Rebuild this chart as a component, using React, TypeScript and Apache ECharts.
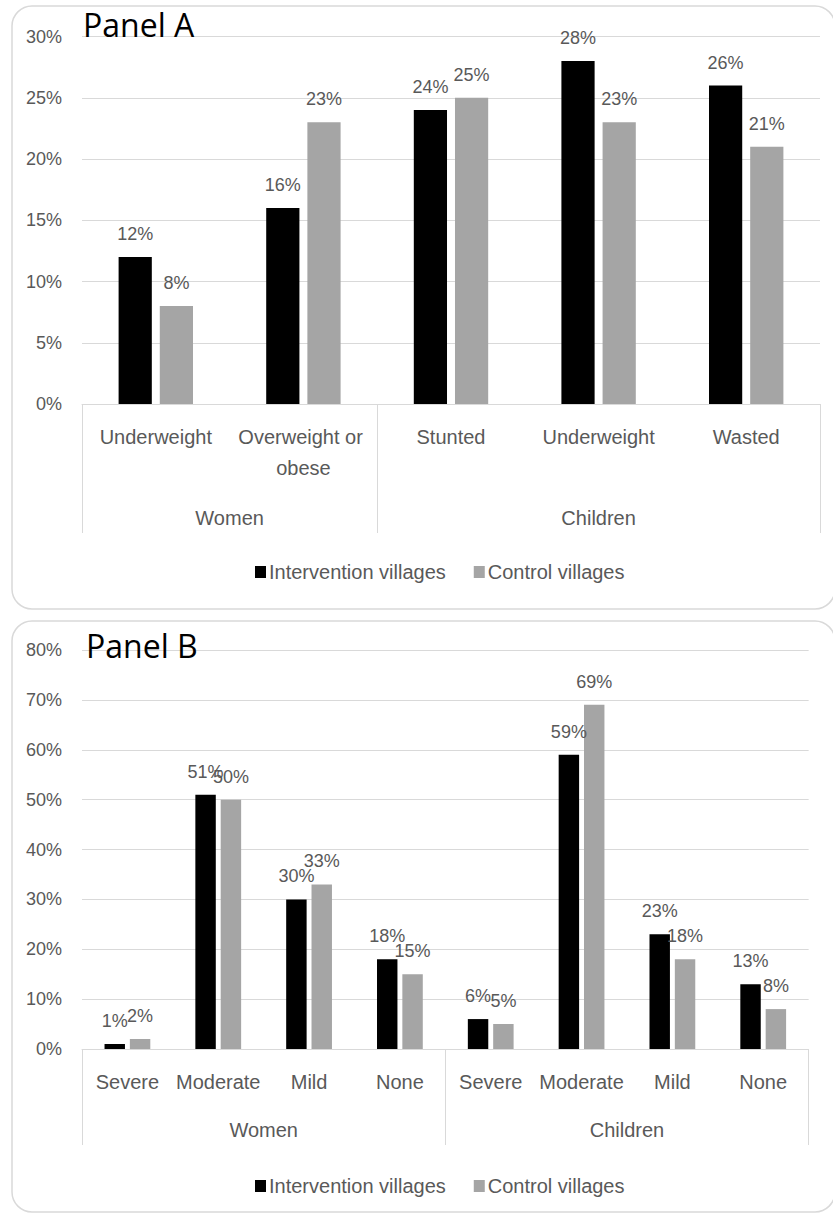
import React, { useEffect, useRef } from "react";
import * as echarts from "echarts";

// Panel A – nutritional status
const panelACategories = ["Underweight", "Overweight or obese", "Stunted", "Underweight", "Wasted"];
const panelAGroups = ["Women", "Children"];
const panelAGroupSizes = [2, 3];
const panelAIntervention = [12, 16, 24, 28, 26];
const panelAControl = [8, 23, 25, 23, 21];
const panelAMax = 30;
const panelAStep = 5;

// Panel B – anaemia severity
const panelBCategories = ["Severe", "Moderate", "Mild", "None", "Severe", "Moderate", "Mild", "None"];
const panelBGroups = ["Women", "Children"];
const panelBGroupSizes = [4, 4];
const panelBIntervention = [1, 51, 30, 18, 6, 59, 23, 13];
const panelBControl = [2, 50, 33, 15, 5, 69, 18, 8];
const panelBMax = 80;
const panelBStep = 10;

const seriesNames = ["Intervention villages", "Control villages"];
const panelTitles = ["Panel A", "Panel B"];

const TEXT = "#595959";
const RULE = "#d9d9d9";
const SANS = "'Liberation Sans', Arial, sans-serif";
const TITLE_FONT = "'Open Sans', 'Noto Sans', sans-serif";

function groupLayout(sizes: number[]) {
  const bounds = [0];
  const centers: number[] = [];
  sizes.forEach((s) => {
    const start = bounds[bounds.length - 1];
    centers.push(start + s / 2);
    bounds.push(start + s);
  });
  return { bounds, centers };
}

function groupAxis(gridIndex: number, groups: string[], sizes: number[], tickLen: number, labelMargin: number) {
  const { bounds, centers } = groupLayout(sizes);
  return {
    type: "value",
    gridIndex,
    position: "bottom",
    min: 0,
    max: bounds[bounds.length - 1],
    axisLine: { show: false },
    splitLine: { show: false },
    axisTick: { show: true, customValues: bounds, length: tickLen, lineStyle: { color: RULE, width: 1 } },
    axisLabel: {
      customValues: centers,
      margin: labelMargin,
      color: TEXT,
      fontFamily: SANS,
      fontSize: 20,
      lineHeight: 24,
      formatter: (v: number) => {
        const i = centers.findIndex((c) => Math.abs(c - v) < 1e-6);
        return i >= 0 ? groups[i] : "";
      },
    },
  };
}

function categoryAxis(gridIndex: number, data: string[]) {
  return {
    type: "category",
    gridIndex,
    data,
    axisLine: { lineStyle: { color: RULE, width: 1 } },
    axisTick: { show: false },
    axisLabel: {
      interval: 0,
      color: TEXT,
      fontFamily: SANS,
      fontSize: 20,
      lineHeight: 31,
      margin: 17,
      width: 135,
      overflow: "break",
    },
  };
}

function valueAxis(gridIndex: number, max: number, step: number) {
  return {
    type: "value",
    gridIndex,
    min: 0,
    max,
    interval: step,
    axisLine: { show: false },
    axisTick: { show: false },
    splitLine: { lineStyle: { color: RULE, width: 1 } },
    axisLabel: { formatter: "{value}%", color: TEXT, fontFamily: SANS, fontSize: 18, margin: 20 },
  };
}

function barSeries(name: string, data: number[], color: string, axisIndex: number) {
  return {
    type: "bar",
    name,
    data,
    xAxisIndex: axisIndex,
    yAxisIndex: axisIndex === 0 ? 0 : 1,
    barWidth: "22.5%",
    barGap: "24%",
    itemStyle: { color },
    label: {
      show: true,
      position: "top",
      distance: 14,
      formatter: "{c}%",
      color: TEXT,
      fontFamily: SANS,
      fontSize: 18,
    },
  };
}

function legendAt(top: number) {
  return {
    left: 250,
    top,
    data: seriesNames,
    icon: "rect",
    itemWidth: 11,
    itemHeight: 12,
    itemGap: 28,
    selectedMode: false,
    textStyle: { color: TEXT, fontFamily: SANS, fontSize: 20, padding: [0, 0, 0, -2] },
  };
}

export default function App() {
  const ref = useRef<HTMLDivElement>(null);

  useEffect(() => {
    if (!ref.current) return;
    const chart = echarts.init(ref.current, undefined, { renderer: "svg" });
    chart.setOption({
      animation: false,
      backgroundColor: "#ffffff",
      grid: [
        { left: 82, top: 36.5, width: 738, height: 367.5 },
        { left: 82, top: 650, width: 738, height: 399 },
      ],
      xAxis: [
        categoryAxis(0, panelACategories),
        categoryAxis(1, panelBCategories),
        groupAxis(0, panelAGroups, panelAGroupSizes, 129, 102),
        groupAxis(1, panelBGroups, panelBGroupSizes, 96, 69),
      ],
      yAxis: [valueAxis(0, panelAMax, panelAStep), valueAxis(1, panelBMax, panelBStep)],
      legend: [legendAt(557), legendAt(1171)],
      series: [
        barSeries(seriesNames[0], panelAIntervention, "#000000", 0),
        barSeries(seriesNames[1], panelAControl, "#a5a5a5", 0),
        barSeries(seriesNames[0], panelBIntervention, "#000000", 1),
        barSeries(seriesNames[1], panelBControl, "#a5a5a5", 1),
      ],
      graphic: [
        {
          type: "rect",
          z: -1,
          shape: { x: 12, y: 6, width: 823, height: 603, r: 20 },
          style: { fill: "none", stroke: RULE, lineWidth: 1.5 },
        },
        {
          type: "rect",
          z: -1,
          shape: { x: 12, y: 621, width: 823, height: 591, r: 20 },
          style: { fill: "none", stroke: RULE, lineWidth: 1.5 },
        },
        {
          type: "text",
          z: 100,
          x: 83,
          y: 24,
          style: { text: panelTitles[0], fill: "#000", font: `32px ${TITLE_FONT}`, verticalAlign: "middle" },
        },
        {
          type: "text",
          z: 100,
          x: 86,
          y: 645,
          style: { text: panelTitles[1], fill: "#000", font: `32px ${TITLE_FONT}`, verticalAlign: "middle" },
        },
      ],
    });
    return () => chart.dispose();
  }, []);

  return <div ref={ref} style={{ position: "absolute", left: 0, top: 0, width: 833, height: 1219 }} />;
}
